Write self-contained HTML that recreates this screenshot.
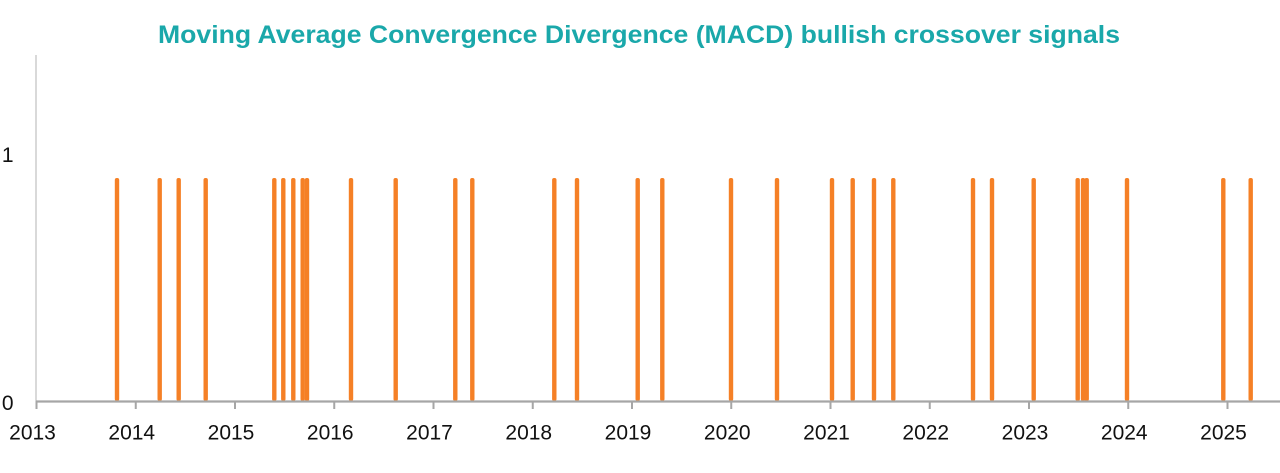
<!DOCTYPE html>
<html>
<head>
<meta charset="utf-8">
<style>
  html,body{margin:0;padding:0;background:#fff;}
  svg{display:block;}
  text{font-family:"Liberation Sans",Arial,sans-serif;}
</style>
</head>
<body>
<svg width="1280" height="473" viewBox="0 0 1280 473" xmlns="http://www.w3.org/2000/svg">
  <rect width="1280" height="473" fill="#ffffff"/>
  <!-- Title -->
  <text x="158" y="43" font-size="25" font-weight="bold" fill="#1AA8AA" textLength="962" lengthAdjust="spacingAndGlyphs">Moving Average Convergence Divergence (MACD) bullish crossover signals</text>

  <!-- Y axis -->
  <line x1="36" y1="55" x2="36" y2="401" stroke="#d9d9d9" stroke-width="2"/>
  <text x="13.5" y="162" font-size="21" fill="#111" text-anchor="end">1</text>
  <text x="13.5" y="410" font-size="21" fill="#111" text-anchor="end">0</text>

  <!-- Spikes -->
  <g fill="#F58026">
    <rect x="114.8" y="178" width="4.4" height="223" rx="2"/>
    <rect x="157.5" y="178" width="4.4" height="223" rx="2"/>
    <rect x="176.5" y="178" width="4.4" height="223" rx="2"/>
    <rect x="203.5" y="178" width="4.4" height="223" rx="2"/>
    <rect x="272.1" y="178" width="4.4" height="223" rx="2"/>
    <rect x="281.1" y="178" width="4.4" height="223" rx="2"/>
    <rect x="291.1" y="178" width="4.4" height="223" rx="2"/>
    <rect x="300.5" y="178" width="4.4" height="223" rx="2"/>
    <rect x="304.8" y="178" width="4.4" height="223" rx="2"/>
    <rect x="348.8" y="178" width="4.4" height="223" rx="2"/>
    <rect x="393.5" y="178" width="4.4" height="223" rx="2"/>
    <rect x="453.1" y="178" width="4.4" height="223" rx="2"/>
    <rect x="470.1" y="178" width="4.4" height="223" rx="2"/>
    <rect x="552.1" y="178" width="4.4" height="223" rx="2"/>
    <rect x="574.8" y="178" width="4.4" height="223" rx="2"/>
    <rect x="635.5" y="178" width="4.4" height="223" rx="2"/>
    <rect x="660.1" y="178" width="4.4" height="223" rx="2"/>
    <rect x="728.8" y="178" width="4.4" height="223" rx="2"/>
    <rect x="774.8" y="178" width="4.4" height="223" rx="2"/>
    <rect x="829.8" y="178" width="4.4" height="223" rx="2"/>
    <rect x="850.5" y="178" width="4.4" height="223" rx="2"/>
    <rect x="871.8" y="178" width="4.4" height="223" rx="2"/>
    <rect x="891.1" y="178" width="4.4" height="223" rx="2"/>
    <rect x="970.8" y="178" width="4.4" height="223" rx="2"/>
    <rect x="989.8" y="178" width="4.4" height="223" rx="2"/>
    <rect x="1031.5" y="178" width="4.4" height="223" rx="2"/>
    <rect x="1075.5" y="178" width="4.4" height="223" rx="2"/>
    <rect x="1080.8" y="178" width="4.4" height="223" rx="2"/>
    <rect x="1084.5" y="178" width="4.4" height="223" rx="2"/>
    <rect x="1124.8" y="178" width="4.4" height="223" rx="2"/>
    <rect x="1221.1" y="178" width="4.4" height="223" rx="2"/>
    <rect x="1248.5" y="178" width="4.4" height="223" rx="2"/>
  </g>

  <!-- X axis -->
  <line x1="36" y1="401.5" x2="1280" y2="401.5" stroke="#a6a6a6" stroke-width="2.2"/>
  <g stroke="#a6a6a6" stroke-width="2">
    <line x1="36.5" y1="401" x2="36.5" y2="409"/>
    <line x1="135.75" y1="401" x2="135.75" y2="409"/>
    <line x1="235" y1="401" x2="235" y2="409"/>
    <line x1="334.25" y1="401" x2="334.25" y2="409"/>
    <line x1="433.5" y1="401" x2="433.5" y2="409"/>
    <line x1="532.75" y1="401" x2="532.75" y2="409"/>
    <line x1="632" y1="401" x2="632" y2="409"/>
    <line x1="731.25" y1="401" x2="731.25" y2="409"/>
    <line x1="830.5" y1="401" x2="830.5" y2="409"/>
    <line x1="929.75" y1="401" x2="929.75" y2="409"/>
    <line x1="1029" y1="401" x2="1029" y2="409"/>
    <line x1="1128.25" y1="401" x2="1128.25" y2="409"/>
    <line x1="1227.5" y1="401" x2="1227.5" y2="409"/>
  </g>
  <g font-size="21" fill="#111" text-anchor="middle">
    <text x="32.5" y="439.5">2013</text>
    <text x="131.75" y="439.5">2014</text>
    <text x="231" y="439.5">2015</text>
    <text x="330.25" y="439.5">2016</text>
    <text x="429.5" y="439.5">2017</text>
    <text x="528.75" y="439.5">2018</text>
    <text x="628" y="439.5">2019</text>
    <text x="727.25" y="439.5">2020</text>
    <text x="826.5" y="439.5">2021</text>
    <text x="925.75" y="439.5">2022</text>
    <text x="1025" y="439.5">2023</text>
    <text x="1124.25" y="439.5">2024</text>
    <text x="1223.5" y="439.5">2025</text>
  </g>
</svg>
</body>
</html>
